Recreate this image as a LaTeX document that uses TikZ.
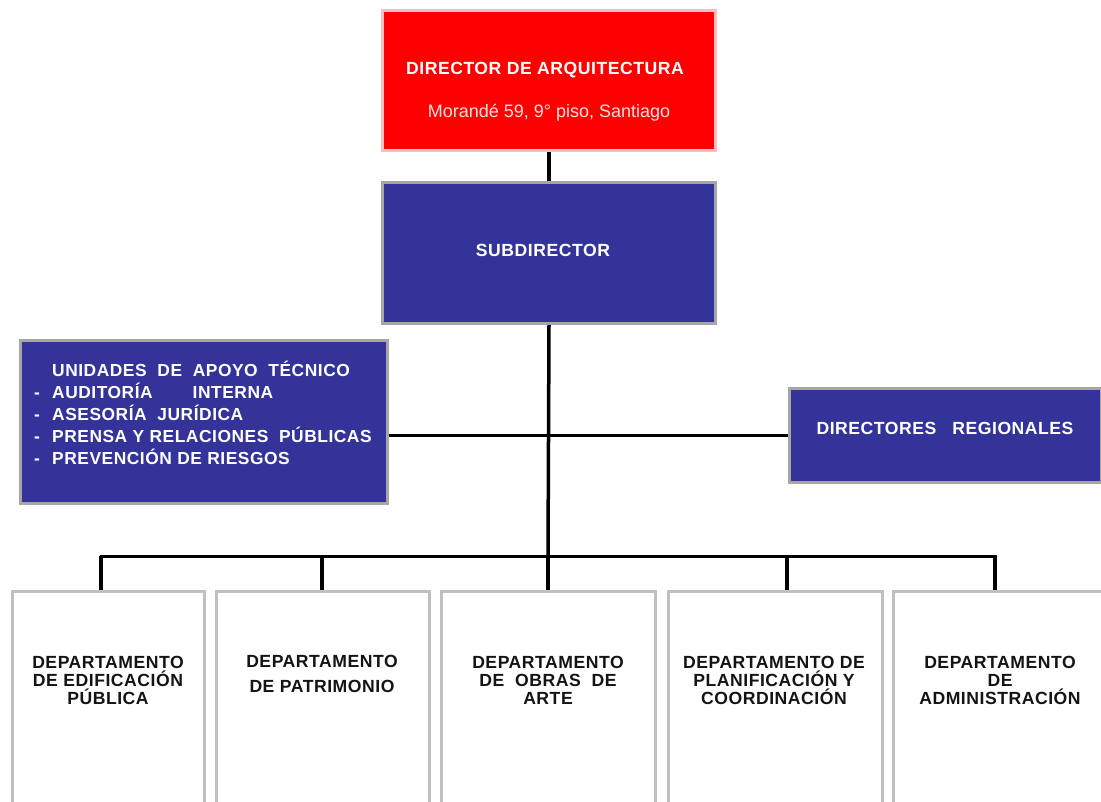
\documentclass[tikz,border=0pt]{standalone}
\usepackage{fontspec}
\setmainfont{Liberation Sans}
\newfontfamily\lsb[LetterSpace=3]{Liberation Sans}
\newcommand{\dsh}{\makebox[18pt][l]{-}}
\begin{document}
\begin{tikzpicture}[x=1pt,y=-1pt,
  redbox/.style={draw={rgb,255:red,255;green,190;blue,190},line width=3pt,fill={rgb,255:red,255;green,0;blue,0},inner sep=0pt,anchor=north west},
  bluebox/.style={draw={rgb,255:red,166;green,166;blue,166},line width=3pt,fill={rgb,255:red,51;green,51;blue,153},inner sep=0pt,anchor=north west},
  deptbox/.style={draw={rgb,255:red,192;green,192;blue,192},line width=3.5pt,fill=white,inner sep=0pt,anchor=north west},
  wtxt/.style={text=white,font=\lsb\bfseries\fontsize{17.6}{18}\selectfont,inner sep=0pt},
  ltxt/.style={text=white,font=\lsb\bfseries\fontsize{17.4}{22}\selectfont,inner sep=0pt,align=left,anchor=north west},
  dtxt/.style={text={rgb,255:red,20;green,20;blue,20},font=\lsb\bfseries\fontsize{17.6}{18}\selectfont,inner sep=0pt,align=center},
  conn/.style={line width=3.5pt,black}
]
\clip (0,0) rectangle (1101,802);
\useasboundingbox (0,0) rectangle (1101,802);
\fill[white] (0,0) rectangle (1101,802);

% boxes
\node[redbox,minimum width=333pt,minimum height=140pt] (dir) at (381,9) {};
\node[wtxt] (dirt) at (545,70) {DIRECTOR DE ARQUITECTURA};
\node[text={rgb,255:red,255;green,225;blue,225},font=\fontsize{18}{18}\selectfont,inner sep=0pt] (dira) at (549,113) {Morandé 59, 9° piso, Santiago};

\node[bluebox,minimum width=333pt,minimum height=141pt] (sub) at (381,181) {};
\node[wtxt] (subt) at (543,250) {SUBDIRECTOR};

\node[bluebox,minimum width=367pt,minimum height=163pt] (uat) at (18.5,339) {};
\node[ltxt] (uatt) at (34,361) {\hspace{18pt}UNIDADES\ \ DE\ \ APOYO\ \ TÉCNICO\\
\dsh AUDITORÍA\hspace{40pt}INTERNA\\
\dsh ASESORÍA\ \ JURÍDICA\\
\dsh PRENSA Y RELACIONES\ \ PÚBLICAS\\
\dsh PREVENCIÓN DE RIESGOS};

\node[bluebox,minimum width=312pt,minimum height=93pt] (reg) at (787.5,387.5) {};
\node[wtxt] (regt) at (945,428) {DIRECTORES\hspace{16pt}REGIONALES};

\node[deptbox,minimum width=192pt,minimum height=260pt] (d1) at (10.5,589.5) {};
\node[deptbox,minimum width=213pt,minimum height=260pt] (d2) at (214.5,589.5) {};
\node[deptbox,minimum width=214pt,minimum height=260pt] (d3) at (439.5,589.5) {};
\node[deptbox,minimum width=214pt,minimum height=260pt] (d4) at (666.5,589.5) {};
\node[deptbox,minimum width=230pt,minimum height=260pt] (d5) at (891.5,589.5) {};

\node[dtxt] (d1t) at (108,680) {DEPARTAMENTO\\DE EDIFICACIÓN\\PÚBLICA};
\node[dtxt,font=\lsb\bfseries\fontsize{17.6}{25}\selectfont] (d2t) at (322,674) {DEPARTAMENTO\\DE PATRIMONIO};
\node[dtxt] (d3t) at (548,680) {DEPARTAMENTO\\DE\ \ OBRAS\ \ DE\\ARTE};
\node[dtxt] (d4t) at (774,680) {DEPARTAMENTO DE\\PLANIFICACIÓN Y\\COORDINACIÓN};
\node[dtxt] (d5t) at (1000,680) {DEPARTAMENTO\\DE\\ADMINISTRACIÓN};

% connectors
\coordinate (b1) at (101,556);
\coordinate (b2) at (322,556);
\coordinate (b3) at (548,556);
\coordinate (b4) at (787,556);
\coordinate (b5) at (995,556);
\draw[conn] (dir.south) -- (sub.north);
\draw[conn] (sub.south) -- (b3);
\draw[conn,line width=3pt] (uat.east |- reg.west) -- (reg.west);
\draw[conn,line width=3pt,line cap=rect] (b1) -- (b5);
\draw[conn] (b1) -- (b1 |- d1.north);
\draw[conn] (b2) -- (b2 |- d2.north);
\draw[conn] (b3) -- (b3 |- d3.north);
\draw[conn] (b4) -- (b4 |- d4.north);
\draw[conn] (b5) -- (b5 |- d5.north);
\end{tikzpicture}
\end{document}
